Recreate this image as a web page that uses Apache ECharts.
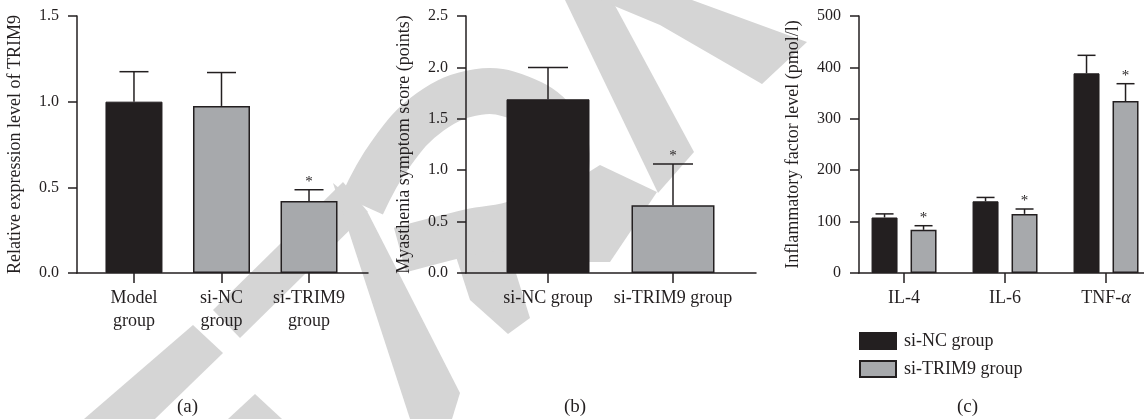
<!DOCTYPE html>
<html>
<head>
<meta charset="utf-8">
<script src="https://cdn.jsdelivr.net/npm/echarts@6/dist/echarts.min.js"></script>
<style>
html,body{margin:0;padding:0;background:#fff;}
#chart{width:1144px;height:419px;}
</style>
</head>
<body>
<div id="chart"></div>
<script>
// ---- Panel (a) ----
const catsA = ['Model\ngroup', 'si-NC\ngroup', 'si-TRIM9\ngroup'];
const meanA = [1.0, 0.975, 0.42];
const sdA = [0.175, 0.195, 0.066];
const sigA = [false, false, true];
const ticksA = [0, 0.5, 1.0, 1.5];

// ---- Panel (b) ----
const catsB = ['si-NC group', 'si-TRIM9 group'];
const meanB = [1.69, 0.66];
const sdB = [0.31, 0.40];
const sigB = [false, true];
const ticksB = [0, 0.5, 1.0, 1.5, 2.0, 2.5];

// ---- Panel (c) ----
const catsC = ['IL-4', 'IL-6', 'TNF-α'];
const seriesNamesC = ['si-NC group', 'si-TRIM9 group'];
const siNC = [108, 139.5, 388.5];
const siNCsd = [7, 7.5, 35];
const siNCsig = [false, false, false];
const siTRIM9 = [84, 115, 334.6];
const siTRIM9sd = [8, 9.5, 33.7];
const siTRIM9sig = [true, true, true];
const ticksC = [0, 100, 200, 300, 400, 500];

const BLACK = '#231f20', GRAY = '#a7a9ac', INK = '#231f20', WM = '#d5d5d5';
const FONT = "'Liberation Serif', 'DejaVu Serif', serif";

function idx(arr) { return arr.map((_, i) => i); }

function errRender(offset, capW) {
  return function (params, api) {
    const x = api.value(0), m = api.value(1), top = api.value(2), s = api.value(3);
    const p0 = api.coord([x, m]);
    const p1 = api.coord([x, top]);
    const cx = p0[0] + offset;
    const st = { stroke: INK, lineWidth: 1.5 };
    const children = [
      { type: 'line', shape: { x1: cx, y1: p0[1], x2: cx, y2: p1[1] }, style: st },
      { type: 'line', shape: { x1: cx - capW / 2, y1: p1[1], x2: cx + capW / 2, y2: p1[1] }, style: st }
    ];
    if (s) {
      children.push({ type: 'text', style: { text: '*', x: cx, y: p1[1] - 0.5, align: 'center', verticalAlign: 'bottom', fill: INK, font: "15px " + FONT } });
    }
    return { type: 'group', children: children };
  };
}

function xAxisFor(gridIndex, cats, min, max, rich) {
  return {
    type: 'value', gridIndex: gridIndex, min: min, max: max,
    splitLine: { show: false },
    axisLine: { onZero: false, lineStyle: { color: INK, width: 1.5 } },
    axisTick: { customValues: idx(cats), length: 10, lineStyle: { color: INK, width: 1.5 } },
    axisLabel: {
      customValues: idx(cats), margin: 14,
      formatter: v => cats[Math.round(v)] || '',
      color: INK, fontFamily: FONT, fontSize: 18, lineHeight: 23,
      rich: rich || {}
    }
  };
}
function yAxisFor(gridIndex, name, ticks, dec, gap) {
  return {
    type: 'value', gridIndex: gridIndex, min: ticks[0], max: ticks[ticks.length - 1],
    interval: ticks[1] - ticks[0],
    name: name, nameLocation: 'middle', nameGap: gap,
    nameTextStyle: { color: INK, fontFamily: FONT, fontSize: 18 },
    splitLine: { show: false },
    axisLine: { show: true, onZero: false, lineStyle: { color: INK, width: 1.5 } },
    axisTick: { show: true, length: 9, lineStyle: { color: INK, width: 1.5 } },
    axisLabel: { margin: 18, color: INK, fontFamily: FONT, fontSize: 16, formatter: v => v.toFixed(dec) }
  };
}

const barStyleGray = { color: GRAY, borderColor: INK, borderWidth: 1.5 };
const barStyleBlack = { color: BLACK, borderColor: BLACK, borderWidth: 1 };

// background watermark shapes (decoration, not data)
function wmPoly(points) { return { type: 'polygon', z: -10, silent: true, shape: { points: points }, style: { fill: WM } }; }
const watermark = [
  wmPoly([[84, 419], [193, 325], [223, 353], [155, 419]]),
  wmPoly([[228, 419], [255, 394], [282, 419]]),
  wmPoly([[213, 310], [343, 182], [368, 212], [240, 338]]),
  wmPoly([[333, 183], [368, 213], [460, 393], [452, 419], [410, 419]]),
  wmPoly([[448, 232], [500, 222], [530, 318], [508, 334], [470, 300]]),
  wmPoly([[520, 215], [600, 165], [657, 192], [610, 262], [520, 262]]),
  wmPoly([[565, 0], [612, 0], [694, 152], [658, 193]]),
  wmPoly([[600, 0], [692, 0], [807, 42], [762, 84], [660, 25]]),
  { type: 'polyline', z: -10, silent: true,
    shape: { points: [[362, 205], [390, 155], [430, 112], [478, 92], [520, 98], [555, 122], [567, 160], [552, 200], [520, 222], [470, 232], [400, 250]], smooth: 0.4 },
    style: { stroke: WM, lineWidth: 46, fill: null, lineJoin: 'round' } }
];

const option = {
  animation: false,
  backgroundColor: '#fff',
  textStyle: { fontFamily: FONT },
  grid: [
    { left: 77, top: 16, width: 291, bottom: 146 },
    { left: 466, top: 16, width: 290, bottom: 146 },
    { left: 859, top: 16, width: 285, bottom: 146 }
  ],
  xAxis: [
    xAxisFor(0, catsA, -0.651, 2.674),
    xAxisFor(1, catsB, -0.656, 1.664),
    xAxisFor(2, catsC.map(c => c.replace('α', '{i|α}')), -0.446, 2.376, { i: { fontStyle: 'italic', fontFamily: FONT, fontSize: 18, color: INK } })
  ],
  yAxis: [
    yAxisFor(0, 'Relative expression level of TRIM9', ticksA, 1, 53),
    yAxisFor(1, 'Myasthenia symptom score (points)', ticksB, 1, 53),
    yAxisFor(2, 'Inflammatory factor level (pmol/l)', ticksC, 0, 57)
  ],
  legend: {
    data: seriesNamesC, orient: 'vertical', left: 854, top: 327,
    itemWidth: 36, itemHeight: 16, itemGap: 10, icon: 'rect',
    textStyle: { color: INK, fontFamily: FONT, fontSize: 18, padding: [0, 0, 0, 3] }
  },
  graphic: watermark.concat([
    { type: 'text', left: 177, top: 398, style: { text: '(a)', font: '19px ' + FONT, fill: INK } },
    { type: 'text', left: 564, top: 398, style: { text: '(b)', font: '19px ' + FONT, fill: INK } },
    { type: 'text', left: 957, top: 398, style: { text: '(c)', font: '19px ' + FONT, fill: INK } }
  ]),
  series: [
    {
      type: 'bar', xAxisIndex: 0, yAxisIndex: 0, barWidth: 57,
      data: meanA.map((v, i) => ({ value: [i, v], itemStyle: i === 0 ? barStyleBlack : barStyleGray }))
    },
    {
      type: 'custom', xAxisIndex: 0, yAxisIndex: 0, z: 5,
      renderItem: errRender(0, 29),
      data: meanA.map((v, i) => [i, v, v + sdA[i], sigA[i] ? 1 : 0])
    },
    {
      type: 'bar', xAxisIndex: 1, yAxisIndex: 1, barWidth: 83,
      data: meanB.map((v, i) => ({ value: [i, v], itemStyle: i === 0 ? barStyleBlack : barStyleGray }))
    },
    {
      type: 'custom', xAxisIndex: 1, yAxisIndex: 1, z: 5,
      renderItem: errRender(0, 40),
      data: meanB.map((v, i) => [i, v, v + sdB[i], sigB[i] ? 1 : 0])
    },
    {
      name: seriesNamesC[0], type: 'bar', xAxisIndex: 2, yAxisIndex: 2, barWidth: 26, barGap: '50%',
      itemStyle: barStyleBlack,
      data: siNC.map((v, i) => [i, v])
    },
    {
      name: seriesNamesC[1], type: 'bar', xAxisIndex: 2, yAxisIndex: 2, barWidth: 26, barGap: '50%',
      itemStyle: barStyleGray,
      data: siTRIM9.map((v, i) => [i, v])
    },
    {
      type: 'custom', xAxisIndex: 2, yAxisIndex: 2, z: 5,
      renderItem: errRender(-19.5, 18),
      data: siNC.map((v, i) => [i, v, v + siNCsd[i], siNCsig[i] ? 1 : 0])
    },
    {
      type: 'custom', xAxisIndex: 2, yAxisIndex: 2, z: 5,
      renderItem: errRender(19.5, 18),
      data: siTRIM9.map((v, i) => [i, v, v + siTRIM9sd[i], siTRIM9sig[i] ? 1 : 0])
    }
  ]
};

const chart = echarts.init(document.getElementById('chart'), null, { renderer: 'canvas' });
chart.setOption(option);
</script>
</body>
</html>
